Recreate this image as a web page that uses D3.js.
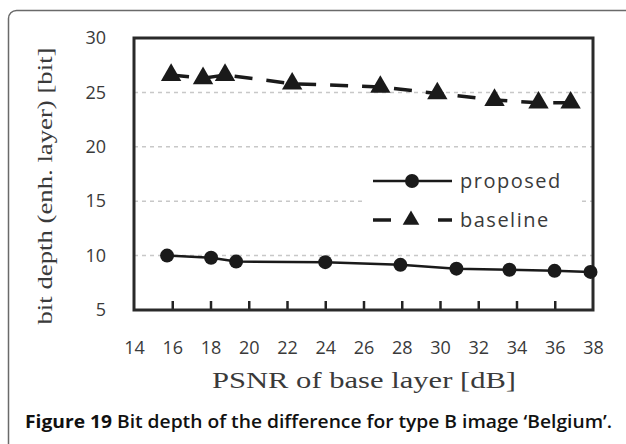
<!DOCTYPE html>
<html>
<head>
<meta charset="utf-8">
<script src="https://cdn.jsdelivr.net/npm/d3@7"></script>
<style>
  html, body { margin: 0; padding: 0; background: #fff; }
  svg { display: block; }
</style>
</head>
<body>
<div id="chart"></div>
<script>
// PSNR of the base layer (x) and bit depth of the enhancement layer (y)
const proposedX = [15.73, 18.03, 19.34, 24.0, 27.93, 30.86, 33.63, 35.99, 37.87];
const proposedY = [10.0, 9.8, 9.45, 9.4, 9.15, 8.8, 8.7, 8.6, 8.5];
const baselineX = [15.94, 17.61, 18.76, 22.27, 26.88, 29.86, 32.85, 35.15, 36.83];
const baselineY = [26.6, 26.3, 26.6, 25.8, 25.5, 24.9, 24.3, 24.05, 24.05];
const xTicks = [14, 16, 18, 20, 22, 24, 26, 28, 30, 32, 34, 36, 38];
const yTicks = [5, 10, 15, 20, 25, 30];
const gridValues = [10, 15, 20, 25];
const seriesNames = ["proposed", "baseline"];

const W = 626, H = 444;
const svg = d3.select("#chart").append("svg").attr("width", W).attr("height", H);

// panel border
svg.append("rect")
  .attr("x", 8.5).attr("y", 10.5).attr("width", 660).attr("height", 480)
  .attr("rx", 8).attr("fill", "#fff").attr("stroke", "#6a6a6a").attr("stroke-width", 1.5);

const x = d3.scaleLinear().domain([14, 38]).range([134, 593]);
const y = d3.scaleLinear().domain([5, 30]).range([310, 38]);

// dashed gridlines
svg.append("g").selectAll("line").data(gridValues).join("line")
  .attr("x1", x(14)).attr("x2", x(38))
  .attr("y1", d => y(d)).attr("y2", d => y(d))
  .attr("stroke", "#c8c8c8").attr("stroke-width", 1.5).attr("stroke-dasharray", "4,4");

// legend backdrop hides the grid behind it
const legend = svg.append("g");
legend.append("rect").attr("x", 362).attr("y", 160).attr("width", 220).attr("height", 76).attr("fill", "#fff");

// x axis: inner ticks, labels below
const xAxis = d3.axisBottom(x).tickValues(xTicks).tickSize(-9).tickPadding(31).tickFormat(d3.format("d"));
const gx = svg.append("g").attr("transform", `translate(0,${y(5)})`).call(xAxis);
gx.select(".domain").remove();
gx.selectAll(".tick line").attr("stroke", "#222").attr("stroke-width", 2.5)
  .filter(d => d === 14 || d === 38).remove();
gx.selectAll(".tick text").attr("font-family", "'Open Sans', sans-serif").attr("font-size", 18)
  .attr("fill", "#3a3a3a");

// y axis labels only
const yAxis = d3.axisLeft(y).tickValues(yTicks).tickSize(0).tickPadding(28).tickFormat(d3.format("d"));
const gy = svg.append("g").attr("transform", `translate(${x(14)},0)`).call(yAxis);
gy.select(".domain").remove();
gy.selectAll(".tick text").attr("font-family", "'Open Sans', sans-serif").attr("font-size", 18)
  .attr("fill", "#3a3a3a");

// plot frame
svg.append("rect")
  .attr("x", x(14)).attr("y", y(30)).attr("width", x(38) - x(14)).attr("height", y(5) - y(30))
  .attr("fill", "none").attr("stroke", "#2a2a2a").attr("stroke-width", 3);

const line = d3.line().x(d => x(d[0])).y(d => y(d[1]));
const proposed = proposedX.map((v, i) => [v, proposedY[i]]);
const baseline = baselineX.map((v, i) => [v, baselineY[i]]);

const tri = d3.symbol().type(d3.symbolTriangle).size(180);

// baseline: dashed with triangles
svg.append("path").datum(baseline).attr("d", line)
  .attr("fill", "none").attr("stroke", "#1a1a1a").attr("stroke-width", 3.5).attr("stroke-dasharray", "18,14");
svg.append("g").selectAll("path").data(baseline).join("path")
  .attr("d", tri).attr("transform", d => `translate(${x(d[0])},${y(d[1])})`).attr("fill", "#1a1a1a");

// proposed: solid with circles
svg.append("path").datum(proposed).attr("d", line)
  .attr("fill", "none").attr("stroke", "#1a1a1a").attr("stroke-width", 2.5);
svg.append("g").selectAll("circle").data(proposed).join("circle")
  .attr("cx", d => x(d[0])).attr("cy", d => y(d[1])).attr("r", 7).attr("fill", "#1a1a1a");

// legend entries
const rows = [{ name: seriesNames[0], cy: 181 }, { name: seriesNames[1], cy: 220 }];
legend.append("line").attr("x1", 373).attr("x2", 452).attr("y1", rows[0].cy).attr("y2", rows[0].cy)
  .attr("stroke", "#1a1a1a").attr("stroke-width", 2.5);
legend.append("circle").attr("cx", 412).attr("cy", rows[0].cy).attr("r", 7).attr("fill", "#1a1a1a");
legend.append("line").attr("x1", 373).attr("x2", 391).attr("y1", rows[1].cy).attr("y2", rows[1].cy)
  .attr("stroke", "#1a1a1a").attr("stroke-width", 3.5);
legend.append("line").attr("x1", 438).attr("x2", 452).attr("y1", rows[1].cy).attr("y2", rows[1].cy)
  .attr("stroke", "#1a1a1a").attr("stroke-width", 3.5);
legend.append("path").attr("d", d3.symbol().type(d3.symbolTriangle).size(120))
  .attr("transform", `translate(411,${rows[1].cy})`).attr("fill", "#1a1a1a");
legend.selectAll("text").data(rows).join("text")
  .attr("x", 460).attr("y", d => d.cy + 7)
  .attr("font-family", "'Open Sans', sans-serif").attr("font-size", 20).attr("letter-spacing", 1.5)
  .attr("fill", "#3a3a3a").text(d => d.name);

// axis titles
svg.append("text")
  .attr("transform", "translate(52,186) rotate(-90)")
  .attr("text-anchor", "middle")
  .attr("font-family", "'Liberation Serif', serif").attr("font-size", 20).attr("fill", "#3a3a3a")
  .attr("textLength", 277).attr("lengthAdjust", "spacingAndGlyphs")
  .text("bit depth (enh. layer) [bit]");
svg.append("text")
  .attr("x", 364).attr("y", 388).attr("text-anchor", "middle")
  .attr("font-family", "'Liberation Serif', serif").attr("font-size", 23).attr("fill", "#3a3a3a")
  .attr("textLength", 304).attr("lengthAdjust", "spacingAndGlyphs")
  .text("PSNR of  base layer [dB]");

// caption
const cap = svg.append("text").attr("x", 25).attr("y", 428)
  .attr("font-family", "'Open Sans', sans-serif").attr("font-size", 18).attr("font-weight", 600).attr("fill", "#111")
  .attr("textLength", 587).attr("lengthAdjust", "spacingAndGlyphs");
cap.append("tspan").attr("font-weight", 700).text("Figure 19");
cap.append("tspan").text(" Bit depth of the difference for type B image \u2018Belgium\u2019.");
</script>
</body>
</html>
